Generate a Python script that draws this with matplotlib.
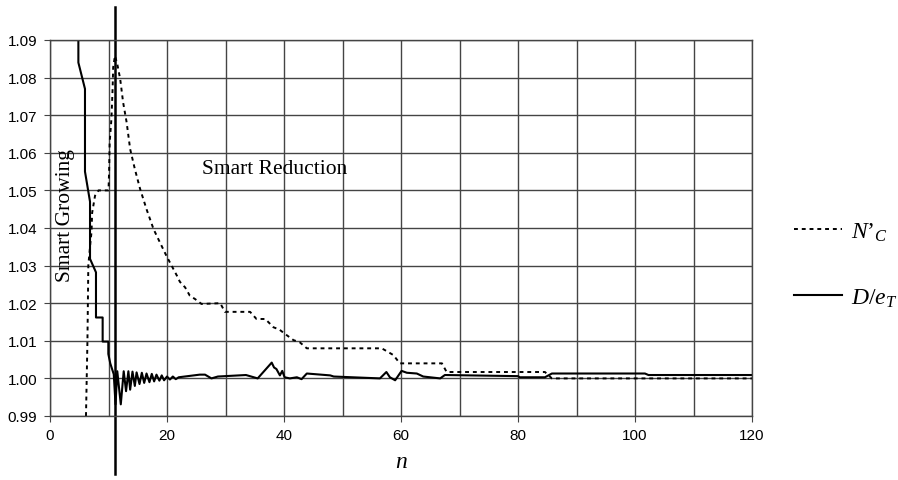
import matplotlib.pyplot as plt
from matplotlib.lines import Line2D

# N'_C (dotted)
nc_n = [6.15, 6.4, 6.55, 6.9, 7.1, 7.2, 7.7, 8.3, 10.0, 10.1,
        10.2, 10.5, 10.7, 10.8, 11.1, 11.5, 12.0, 12.5, 13.1, 13.7,
        14.5, 15.4, 16.5, 17.7, 18.5, 19.9, 21.7, 22.2, 23.1, 23.9,
        24.8, 25.9, 29.1, 29.9, 34.2, 35.3, 36.8, 38.2, 39.2, 40.2,
        41.6, 42.7, 43.9, 56.7, 57.5, 58.7, 59.8, 67.0, 67.8, 84.6,
        85.8, 120]
nc_val = [0.990, 1.010, 1.030, 1.036, 1.039, 1.044, 1.0486, 1.050, 1.050, 1.0548,
          1.0628, 1.069, 1.077, 1.0827, 1.0858, 1.0836, 1.0796, 1.0734, 1.0681, 1.061,
          1.0557, 1.0504, 1.045, 1.0397, 1.0371, 1.0326, 1.0273, 1.0257, 1.0242, 1.022,
          1.0211, 1.0198, 1.020, 1.0177, 1.0177, 1.0158, 1.0158, 1.0136, 1.013, 1.0118,
          1.0102, 1.0096, 1.008, 1.008, 1.0073, 1.0062, 1.004, 1.004, 1.0017, 1.0017,
          1.000, 1.000]

# D/e_T (solid)
d_n = [4.85, 4.85, 5.98, 5.98, 6.84, 6.84, 7.86, 7.86, 9.0, 9.0,
       9.97, 9.97, 10.3, 10.9, 11.2, 11.5, 12.1, 12.6, 13.0, 13.4,
       13.7, 14.1, 14.5, 14.8, 15.3, 15.7, 16.1, 16.5, 17.0, 17.4,
       17.8, 18.2, 18.7, 19.1, 19.5, 20.0, 20.5, 21.0, 21.5, 22.0,
       25.6, 26.5, 27.6, 28.7, 33.5, 35.5, 37.9, 38.3, 38.7, 39.3,
       39.7, 40.1, 41.0, 42.2, 43.0, 43.9, 47.9, 48.5, 56.4, 57.5,
       58.1, 59.0, 60.1, 61.0, 62.7, 63.8, 66.7, 67.5, 80.0, 80.3,
       84.6, 85.8, 101.7, 102.3, 120]
d_val = [1.095, 1.084, 1.077, 1.055, 1.047, 1.0318, 1.0282, 1.0162, 1.0162, 1.0098,
         1.0098, 1.0065, 1.004, 1.0011, 0.9931, 1.0019, 0.9931, 1.0019, 0.9966, 1.0019,
         0.997, 1.0018, 0.998, 1.0016, 0.9985, 1.0015, 0.9988, 1.0013, 0.999, 1.0012,
         0.9992, 1.001, 0.9994, 1.0008, 0.9995, 1.0005, 0.9997, 1.0005, 0.9998, 1.0003,
         1.001, 1.001, 1.000, 1.0005, 1.0009, 1.000, 1.0042, 1.0029, 1.0025, 1.0008,
         1.002, 1.0003, 1.0, 1.0003, 0.9998, 1.0013, 1.0008, 1.0005, 1.000, 1.0017,
         1.0003, 0.9995, 1.002, 1.0015, 1.0013, 1.0005, 1.000, 1.0009, 1.0006, 1.0003,
         1.0003, 1.0013, 1.0013, 1.0009, 1.0009]

divider_n = 11.1
x_ticks = [0, 20, 40, 60, 80, 100, 120]
y_ticks = [0.99, 1.00, 1.01, 1.02, 1.03, 1.04, 1.05, 1.06, 1.07, 1.08, 1.09]

serif = 'Liberation Serif'
plt.rcParams['mathtext.fontset'] = 'custom'
plt.rcParams['mathtext.it'] = 'Liberation Serif:italic'
plt.rcParams['mathtext.rm'] = 'Liberation Serif'

fig = plt.figure(figsize=(8.98, 4.81), dpi=100)
ax = fig.add_axes([50 / 898, 1 - 417 / 481, 702 / 898, 376 / 481])

ax.plot(nc_n, nc_val, color='black', lw=1.4, linestyle=(0, (2, 2)))
ax.plot(d_n, d_val, color='black', lw=1.5)
ax.plot([divider_n, divider_n], [0.9746, 1.0988], color='black', lw=1.8, clip_on=False)

ax.set_xlim(0, 120)
ax.set_ylim(0.99, 1.09)
ax.set_xticks(x_ticks)
ax.set_xticks(range(10, 120, 20), minor=True)
ax.set_yticks(y_ticks)
ax.set_yticklabels([f'{v:.2f}' for v in y_ticks])
ax.grid(True, which='both', color='#444444', lw=1.0)
ax.tick_params(which='both', length=4, width=0.8, color='#444444', direction='out',
               labelsize=11, pad=5)
ax.tick_params(which='minor', length=0)
for lab in ax.get_xticklabels() + ax.get_yticklabels():
    lab.set_fontfamily('Liberation Sans')
for s in ax.spines.values():
    s.set_color('#444444')
    s.set_linewidth(1.0)

ax.set_xlabel('n', fontfamily=serif, style='italic', fontsize=17, labelpad=6)

ax.text(2.7, 1.0435, 'Smart Growing', rotation=90, ha='center', va='center',
        fontfamily=serif, fontsize=15.5)
ax.text(26.0, 1.0557, 'Smart Reduction', ha='left', va='center',
        fontfamily=serif, fontsize=15.5)

handles = [Line2D([], [], color='black', lw=1.4, linestyle=(0, (2, 2))),
           Line2D([], [], color='black', lw=1.5)]
ax.legend(handles, ["$N’_C$", '$D/e_T$'], loc='center left',
          bbox_to_anchor=(1.03, 0.405), frameon=False, fontsize=17,
          handlelength=2.0, handletextpad=0.4, labelspacing=1.75)

plt.savefig('out.png', dpi=100)
plt.close()
